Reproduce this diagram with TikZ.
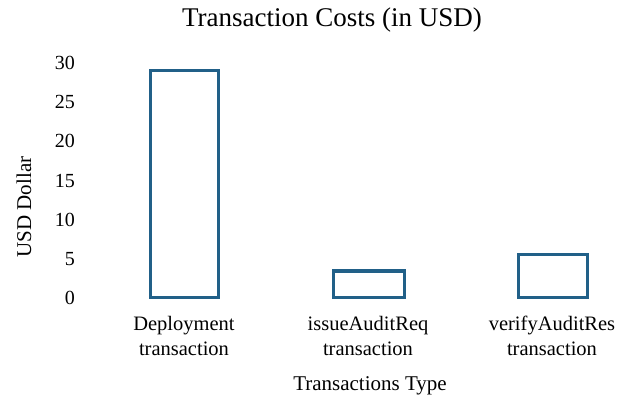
\documentclass[tikz,border=0pt]{standalone}
\usepackage{fontspec}
\setmainfont{Liberation Serif}
\definecolor{barblue}{RGB}{33,96,136}
\begin{document}
\begin{tikzpicture}[x=1pt,y=-1pt,
  bar/.style={draw=barblue,line width=3pt,fill=white},
  tick/.style={anchor=east,inner sep=0pt,font=\fontsize{20}{22}\selectfont},
  cat/.style={align=center,inner sep=0pt,font=\fontsize{20.5}{25}\selectfont},
  axtitle/.style={inner sep=0pt,font=\fontsize{21}{24}\selectfont}]
\useasboundingbox (0,0) rectangle (618,403);
\fill[white] (0,0) rectangle (618,403);
\node[inner sep=0pt,font=\fontsize{27}{30}\selectfont] (title) at (332,20) {Transaction Costs (in USD)};
% y ticks: 0 at 298, 7.83 px per unit
\foreach \v in {0,5,...,30}{
  \node[tick] (t\v) at (75,{298-7.83*\v}) {\v};
}
\node[axtitle,rotate=90] (ylab) at (24,207) {USD Dollar};
\node[axtitle] (xlab) at (370,386) {Transactions Type};
% bars
\draw[bar] (150,297) rectangle (218,71);
\draw[bar] (333,297) rectangle (404,271);
\draw[bar] (518,297) rectangle (587,255);
\node[cat] (c1) at (184,336) {Deployment\\transaction};
\node[cat] (c2) at (368,336) {issueAuditReq\\transaction};
\node[cat] (c3) at (552,336) {verifyAuditRes\\transaction};
\end{tikzpicture}
\end{document}
